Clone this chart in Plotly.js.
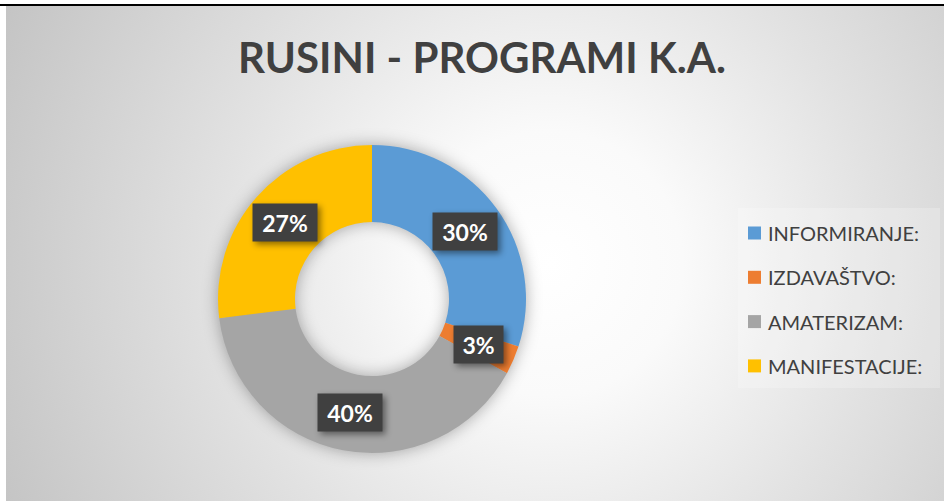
<!DOCTYPE html>
<html>
<head>
<meta charset="utf-8">
<script src="https://cdn.plot.ly/plotly-3.0.1.min.js"></script>
<style>
  html, body { margin: 0; padding: 0; background: #ffffff; }
  #wrap { position: relative; width: 944px; height: 501px; overflow: hidden; }
  #bg { position: absolute; left: 6px; top: 6px; width: 938px; height: 495px;
        background: radial-gradient(circle farthest-corner at 58% 52%, #ffffff 0%, #fafafa 22%, #e2e2e2 55%, #c4c4c4 100%); }
  #topline { position: absolute; left: 0; top: 4px; width: 944px; height: 2px; background: #000; }
  #chart { position: absolute; left: 0; top: 0; width: 944px; height: 501px; }
  .pielayer .trace { filter: drop-shadow(0px 0px 8px rgba(0,0,0,0.32)); }
  .annotation .bg { filter: drop-shadow(3px 3px 3px rgba(0,0,0,0.45)); }
</style>
</head>
<body>
<div id="wrap">
  <div id="bg"></div>
  <div id="topline"></div>
  <div id="chart"></div>
</div>
<script>
// ---- data ----
const titleText = 'RUSINI - PROGRAMI K.A.';
const categories = ['INFORMIRANJE:', 'IZDAVAŠTVO:', 'AMATERIZAM:', 'MANIFESTACIJE:'];
const values = [30, 3, 40, 27];
const colors = ['#5b9bd5', '#ed7d31', '#a5a5a5', '#ffc000'];

// ---- geometry (styles/layout) ----
const W = 944, H = 501;
const cx = 372, cy = 299, R = 154, hole = 0.5;

const domX = [(cx - R) / W, (cx + R) / W];
const domY = [(H - cy - R) / H, (H - cy + R) / H];

const total = values.reduce((a, b) => a + b, 0);
const annotations = [];
const shapes = [];

// data labels at ring middle
let cum = 0;
const rMid = R * (1 + hole) / 2;
values.forEach((v, i) => {
  const frac = (cum + v / 2) / total;
  cum += v;
  const th = 2 * Math.PI * frac;
  const px = cx + rMid * Math.sin(th);
  const py = cy - rMid * Math.cos(th);
  const txt = Math.round(v / total * 100) + '%';
  annotations.push({
    xref: 'paper', yref: 'paper', x: px / W, y: 1 - py / H,
    xanchor: 'center', yanchor: 'middle', showarrow: false,
    text: '<b>' + txt + '</b>',
    font: { family: 'Lato', size: 23, color: '#ffffff' },
    bgcolor: '#404040', borderpad: 4,
    width: 15 * txt.length + 11, height: 29
  });
});

// custom legend
const legX = 748, legY0 = 233, legStep = 44.3, sq = 13;
shapes.push({
  type: 'rect', xref: 'paper', yref: 'paper', layer: 'below',
  x0: 738 / W, x1: 940 / W, y0: 1 - 388 / H, y1: 1 - 208 / H,
  fillcolor: 'rgba(255,255,255,0.22)', line: { width: 0 }
});
categories.forEach((c, i) => {
  const yc = legY0 + i * legStep;
  shapes.push({
    type: 'rect', xref: 'paper', yref: 'paper',
    x0: legX / W, x1: (legX + sq) / W,
    y0: 1 - (yc + sq / 2) / H, y1: 1 - (yc - sq / 2) / H,
    fillcolor: colors[i], line: { width: 0 }
  });
  annotations.push({
    xref: 'paper', yref: 'paper', x: 766 / W, y: 1 - yc / H,
    xanchor: 'left', yanchor: 'middle', showarrow: false,
    text: c,
    font: { family: 'Lato', size: 20, color: '#404040' }
  });
});

const data = [{
  type: 'pie',
  labels: categories,
  values: values,
  hole: hole,
  sort: false,
  direction: 'clockwise',
  rotation: 0,
  marker: { colors: colors, line: { width: 0 } },
  textinfo: 'none',
  hoverinfo: 'label+percent',
  showlegend: false,
  domain: { x: domX, y: domY }
}];

const layout = {
  width: W, height: H,
  margin: { l: 0, r: 0, t: 0, b: 0 },
  paper_bgcolor: 'rgba(0,0,0,0)',
  plot_bgcolor: 'rgba(0,0,0,0)',
  title: {
    text: '<b>' + titleText + '</b>',
    font: { family: 'Lato', size: 42, color: '#404040' },
    x: 482 / W, xanchor: 'center', xref: 'paper',
    y: 1 - 58 / H, yanchor: 'middle', yref: 'container'
  },
  showlegend: false,
  annotations: annotations,
  shapes: shapes
};

Plotly.newPlot('chart', data, layout, { displayModeBar: false, staticPlot: true });
</script>
</body>
</html>
